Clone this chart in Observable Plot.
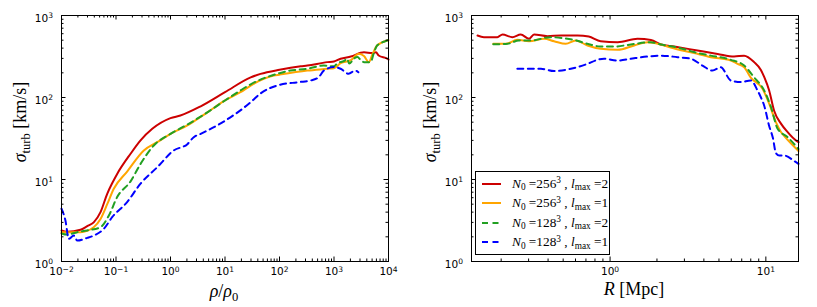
<!DOCTYPE html>
<html><head><meta charset="utf-8">
<script src="https://cdn.jsdelivr.net/npm/d3@7"></script>
<script src="https://cdn.jsdelivr.net/npm/@observablehq/plot@0.6"></script>
<style>
html,body{margin:0;padding:0;background:#fff}
body{width:817px;height:307px;position:relative;overflow:hidden}
.panel{position:absolute;top:0}
.lab{position:absolute;font-family:"Liberation Serif",serif;font-size:18px;white-space:nowrap;line-height:1;color:#000}
.ylab{transform:translate(-50%,-50%) rotate(-90deg)}
.xlab{transform:translate(-50%,0)}
.sub{font-size:0.7em;position:relative;top:0.3em}
.sup{font-size:0.7em;position:relative;top:-0.45em}
#legend{position:absolute;left:475px;top:171px;width:133px;height:82px;border:1px solid #000;background:#fff;font-family:"Liberation Serif",serif;font-size:13.3px}
.row{position:absolute;left:0;height:20px;display:flex;align-items:center;white-space:nowrap}
</style>
</head><body>
<div id="left" class="panel" style="left:0"></div>
<div id="right" class="panel" style="left:409px"></div>
<script>
// ---- series styling / legend ----
const colors = ["#cc0000", "#ffa500", "#22a022", "#0000ff"];
const dashes = [undefined, undefined, "6,4.5", "6,4.5"];
const legendN = ["256", "256", "128", "128"];
const legendL = ["2", "1", "2", "1"];

// ---- left panel: sigma_turb vs rho/rho0 ----
const rhoRed = [0.01, 0.0127, 0.0223, 0.0297, 0.039, 0.052, 0.069, 0.085, 0.105, 0.185, 0.282, 0.463, 1.0, 1.52, 3.58, 10, 29.6, 44.8, 100, 246, 324, 750, 1000, 1320, 2040, 3550, 5000, 5900, 6600, 9500, 10000];
const sigRhoRed = [2.39, 2.3, 2.44, 2.7, 3.0, 4.0, 6.7, 9.0, 11.7, 20.6, 30, 41.5, 56, 60.3, 78, 116, 176, 194, 218, 240, 245, 270, 275, 297, 316, 356, 348, 356, 325, 297, 290];

const rhoOrange = [0.01, 0.0223, 0.039, 0.052, 0.069, 0.091, 0.16, 0.324, 0.569, 1.0, 2.04, 4.75, 10, 19.2, 29.6, 78.5, 100, 324, 750, 1000, 1320, 2040, 2850, 3550, 4370, 5100, 6170, 9400, 10000];
const sigRhoOrange = [2.28, 2.28, 2.62, 3.3, 5.0, 7.7, 12.5, 22.6, 28.5, 36, 45.6, 66, 92, 116, 140, 185, 190, 213, 224, 228, 262, 285, 341, 320, 270, 340, 430, 495, 500];

const rhoGreen = [0.01, 0.0127, 0.0194, 0.0295, 0.052, 0.074, 0.105, 0.185, 0.282, 0.494, 1.0, 2.04, 4.75, 10, 19.2, 29.6, 100, 158, 324, 650, 1000, 1150, 1537, 1740, 1900, 2350, 2690, 3110, 3550, 4680, 5470, 6170, 9400, 10000];
const sigRhoGreen = [2.2, 2.13, 2.28, 2.39, 2.62, 3.64, 6.1, 9.5, 15.5, 26, 36, 46.8, 66, 92, 122, 145, 198, 213, 224, 245, 240, 262, 280, 297, 260, 300, 311, 285, 270, 270, 360, 430, 495, 505];

const rhoBlue = [0.01, 0.0118, 0.0136, 0.0168, 0.0195, 0.0297, 0.039, 0.0597, 0.085, 0.16, 0.282, 0.57, 1.15, 2.04, 2.67, 3.58, 10, 29.6, 44.8, 90.5, 226, 372, 525, 650, 1000, 1320, 1850, 2450, 2800];
const sigRhoBlue = [4.4, 3.16, 1.89, 2.07, 1.8, 1.94, 2.07, 2.5, 3.47, 5.3, 8.9, 14.1, 22.6, 27, 32.8, 36, 52, 87.6, 112, 140, 154, 161, 177, 213, 235, 224, 195, 213, 203];

// ---- right panel: sigma_turb vs R [Mpc] ----
const rRed = [0.141, 0.155, 0.189, 0.204, 0.236, 0.267, 0.302, 0.325, 0.396, 0.483, 0.618, 0.73, 0.87, 1.12, 1.5, 1.83, 2.12, 2.58, 3.64, 4.9, 6.26, 7.25, 8.41, 9.29, 9.77, 10.5, 11.3, 12.5, 13.8, 15.6, 16.2];
const sigRRed = [570, 544, 544, 587, 544, 587, 520, 587, 560, 570, 570, 553, 486, 473, 520, 503, 443, 418, 374, 340, 316, 324, 270, 217, 177, 122, 69, 48, 37.8, 29.9, 28.5];

const rOrange = [0.178, 0.214, 0.254, 0.302, 0.377, 0.437, 0.52, 0.602, 0.716, 0.87, 1.12, 1.43, 1.74, 2.12, 2.45, 3.46, 4.43, 5.96, 6.58, 7.26, 8.0, 9.52, 10.5, 11.6, 12.5, 13.1, 16.2];
const sigROrange = [452, 452, 506, 486, 520, 486, 452, 495, 431, 393, 381, 431, 473, 443, 408, 348, 310, 282, 257, 234, 175, 128, 84, 50, 38, 34, 22.3];

const rGreen = [0.178, 0.22, 0.26, 0.31, 0.416, 0.495, 0.587, 0.716, 0.87, 1.06, 1.36, 1.83, 2.12, 2.71, 3.46, 4.43, 5.96, 7.26, 8.41, 9.75, 10.8, 11.9, 13.8, 16.2];
const sigRGreen = [445, 452, 495, 495, 544, 530, 503, 452, 418, 418, 443, 473, 443, 408, 358, 324, 288, 245, 176, 122, 76, 41.5, 32.8, 23.5];

const rBlue = [0.254, 0.36, 0.437, 0.56, 0.716, 0.83, 0.915, 1.12, 1.36, 1.74, 2.12, 2.71, 3.3, 3.92, 4.54, 5.13, 5.96, 6.9, 8.0, 8.84, 9.3, 9.75, 10.5, 11.1, 11.6, 12.2, 13.1, 15.2, 16.2];
const sigRBlue = [224, 224, 210, 224, 257, 288, 297, 282, 297, 316, 324, 310, 297, 245, 213, 234, 161, 154, 161, 122, 100, 80, 45, 32, 21, 19.6, 19.6, 16.8, 15.5];

// ---- ticks ----
const yMajor = [1, 10, 100, 1000];
const yTickLabels = ["10^0", "10^1", "10^2", "10^3"];
const rhoMajor = [0.01, 0.1, 1, 10, 100, 1000, 10000];
const rhoTickLabels = ["10^\u22122", "10^\u22121", "10^0", "10^1", "10^2", "10^3", "10^4"];
const rMajor = [1, 10];
const rTickLabels = ["10^0", "10^1"];
const rhoDomain = [0.01, 10000];
const rDomain = [0.129, 16.2];
const yDomain = [1, 1000];

function minorTicks(domain) {
  const out = [];
  for (let e = -3; e <= 4; e++) for (let m = 2; m <= 9; m++) {
    const v = m * Math.pow(10, e);
    if (v > domain[0] && v < domain[1]) out.push(v);
  }
  return out;
}
function fmtFrom(values, labels) {
  const m = new Map(values.map((v, i) => [v, labels[i]]));
  return d => m.get(d);
}
function table(xs, ys) { return xs.map((x, i) => ({x, y: ys[i]})); }

function makePanel({width, ml, mr, xDomain, xMajor, xLabels, series}) {
  const H = 307, mt = 15, mb = 46;
  const FH = H - mt - mb, FW = width - ml - mr;
  const xMinor = minorTicks(xDomain), yMinor = minorTicks(yDomain);
  const xMaj = xMajor.filter(v => v >= xDomain[0] && v <= xDomain[1]);
  const marks = [
    ...series.map((d, k) => Plot.line(d, {x: "x", y: "y", stroke: colors[k], strokeWidth: 2, strokeDasharray: dashes[k], curve: "monotone-x"})),
    Plot.ruleX(xMaj, {insetTop: FH - 4.5, stroke: "#000"}),
    Plot.ruleX(xMaj, {insetBottom: FH - 4.5, stroke: "#000"}),
    Plot.ruleX(xMinor, {insetTop: FH - 2.5, stroke: "#000"}),
    Plot.ruleX(xMinor, {insetBottom: FH - 2.5, stroke: "#000"}),
    Plot.ruleY(yMajor, {insetRight: FW - 4.5, stroke: "#000"}),
    Plot.ruleY(yMajor, {insetLeft: FW - 4.5, stroke: "#000"}),
    Plot.ruleY(yMinor, {insetRight: FW - 2.5, stroke: "#000"}),
    Plot.ruleY(yMinor, {insetLeft: FW - 2.5, stroke: "#000"}),
    Plot.frame({stroke: "#000"}),
    Plot.axisX({ticks: xMaj, tickSize: 0, tickPadding: 6.5, tickFormat: fmtFrom(xMajor, xLabels), label: null, fontSize: 10.5}),
    Plot.axisY({ticks: yMajor, tickSize: 0, tickPadding: 8.5, tickFormat: fmtFrom(yMajor, yTickLabels), label: null, fontSize: 10.5, dy: 3})
  ];
  const svg = Plot.plot({
    width, height: H, marginLeft: ml, marginRight: mr, marginTop: mt, marginBottom: mb,
    x: {type: "log", domain: xDomain},
    y: {type: "log", domain: yDomain},
    style: {fontFamily: "DejaVu Sans", fontSize: "10.5px", background: "white", color: "#000", overflow: "visible"},
    marks
  });
  d3.select(svg).selectAll('g[aria-label$="tick label"] text').each(function () {
    const t = this.textContent;
    const i = t.indexOf("^");
    if (i < 0) return;
    const sel = d3.select(this);
    sel.text(null);
    sel.append("tspan").text(t.slice(0, i));
    sel.append("tspan").attr("dy", "-0.48em").attr("font-size", "0.72em").text(t.slice(i + 1));
  });
  return svg;
}

document.getElementById("left").appendChild(makePanel({
  width: 409, ml: 61, mr: 21, xDomain: rhoDomain, xMajor: rhoMajor, xLabels: rhoTickLabels,
  series: [table(rhoRed, sigRhoRed), table(rhoOrange, sigRhoOrange), table(rhoGreen, sigRhoGreen), table(rhoBlue, sigRhoBlue)]
}));
document.getElementById("right").appendChild(makePanel({
  width: 408, ml: 62, mr: 19, xDomain: rDomain, xMajor: rMajor, xLabels: rTickLabels,
  series: [table(rRed, sigRRed), table(rOrange, sigROrange), table(rGreen, sigRGreen), table(rBlue, sigRBlue)]
}));

// ---- axis labels ----
function addLabel(cls, x, y, html) {
  const d = document.createElement("div");
  d.className = "lab " + cls;
  d.style.left = x + "px"; d.style.top = y + "px";
  d.innerHTML = html;
  document.body.appendChild(d);
}
const yLabelHtml = '<i>σ</i><span class="sub">turb</span> [km/s]';
addLabel("ylab", 20, 122, yLabelHtml);
addLabel("ylab", 430, 122, yLabelHtml);
addLabel("xlab", 224, 282, '<i>ρ</i>/<i>ρ</i><span class="sub">0</span>');
addLabel("xlab", 634, 280, '<i>R</i> [Mpc]');

// ---- legend ----
const legend = document.createElement("div");
legend.id = "legend";
const rowCenters = [11.5, 31, 50.5, 70];
colors.forEach((c, k) => {
  const row = document.createElement("div");
  row.className = "row";
  row.style.top = (rowCenters[k] - 10) + "px";
  row.innerHTML =
    `<svg width="19" height="4" style="margin-left:6px;margin-right:11px;overflow:visible"><line x1="0" x2="19" y1="2" y2="2" stroke="${c}" stroke-width="2" ${dashes[k] ? `stroke-dasharray="${dashes[k]}"` : ""}/></svg>` +
    `<span><i>N</i><span class="sub">0</span> =${legendN[k]}<span class="sup">3</span> , <i>l</i><span class="sub">max</span> =${legendL[k]}</span>`;
  legend.appendChild(row);
});
document.body.appendChild(legend);
</script>
</body></html>
